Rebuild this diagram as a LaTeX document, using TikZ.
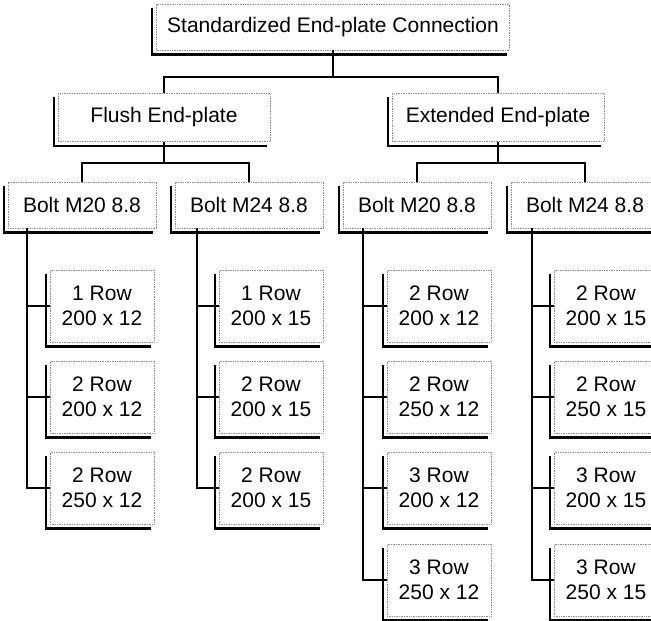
\documentclass[tikz,border=0pt]{standalone}
\usepackage{fontspec}
\setmainfont{Liberation Sans}
\begin{document}
\begin{tikzpicture}[x=1pt,y=-1pt,
  box/.style={draw=black!45, densely dotted, line width=0.7pt, inner sep=0pt,
    font=\fontsize{21}{25}\selectfont, align=center},
  topbox/.style={box, minimum width=353pt, minimum height=46pt},
  midbox/.style={box, minimum width=212pt, minimum height=48pt},
  boltbox/.style={box, minimum width=148pt, minimum height=46pt},
  rowbox/.style={box, minimum width=104pt, minimum height=72pt},
  shadowline/.style={line width=2.3pt, black},
  conn/.style={line width=1.1pt, black}]
\useasboundingbox (0,0) rectangle (651,621);
\clip (0,0) rectangle (651,621);
\fill[white] (0,0) rectangle (651,621);

% nodes
\node[topbox] (top) at (333,27) {Standardized End-plate Connection};
\node[midbox] (flush) at (164,117.5) {Flush End-plate};
\node[midbox] (ext) at (498,117.5) {Extended End-plate};

\node[boltbox] (b1) at (82,205) {Bolt M20 8.8};
\node[boltbox] (b2) at (249,205) {Bolt M24 8.8};
\node[boltbox] (b3) at (417,205) {Bolt M20 8.8};
\node[boltbox] (b4) at (585,205) {Bolt M24 8.8};

\node[rowbox] (r11) at (102,306) {1 Row\\200 x 12};
\node[rowbox] (r12) at (102,397) {2 Row\\200 x 12};
\node[rowbox] (r13) at (102,488) {2 Row\\250 x 12};

\node[rowbox] (r21) at (271,306) {1 Row\\200 x 15};
\node[rowbox] (r22) at (271,397) {2 Row\\200 x 15};
\node[rowbox] (r23) at (271,488) {2 Row\\200 x 15};

\node[rowbox] (r31) at (439,306) {2 Row\\200 x 12};
\node[rowbox] (r32) at (439,397) {2 Row\\250 x 12};
\node[rowbox] (r33) at (439,488) {3 Row\\200 x 12};
\node[rowbox] (r34) at (439,580) {3 Row\\250 x 12};

\node[rowbox] (r41) at (606,306) {2 Row\\200 x 15};
\node[rowbox] (r42) at (606,397) {2 Row\\250 x 15};
\node[rowbox] (r43) at (606,488) {3 Row\\200 x 15};
\node[rowbox] (r44) at (606,580) {3 Row\\250 x 15};

% shadows
\foreach \n in {top,flush,ext,b1,b2,b3,b4,r11,r12,r13,r21,r22,r23,r31,r32,r33,r34,r41,r42,r43,r44}{
  \draw[shadowline] ([xshift=-4pt,yshift=-4pt]\n.north west) |- ([xshift=-3pt,yshift=-4pt]\n.south east);
}

% connectors level 1
\coordinate (j0) at (333,77);
\draw[conn] (top.south) -- (j0);
\draw[conn] (flush.north) |- (j0) -| (ext.north);

% level 2
\coordinate (j1) at (164,163);
\coordinate (j2) at (498,163);
\draw[conn] (flush.south) -- (j1);
\draw[conn] (b1.north) |- (j1) -| (b2.north);
\draw[conn] (ext.south) -- (j2);
\draw[conn] (b3.north) |- (j2) -| (b4.north);

% branches
\coordinate (t1) at ([xshift=-55pt]b1.south);
\coordinate (t2) at ([xshift=-52pt]b2.south);
\coordinate (t3) at ([xshift=-54pt]b3.south);
\coordinate (t4) at ([xshift=-53pt]b4.south);
\draw[conn] (t1) |- (r13.west);
\draw[conn] (t1 |- r11.west) -- (r11.west);
\draw[conn] (t1 |- r12.west) -- (r12.west);
\draw[conn] (t2) |- (r23.west);
\draw[conn] (t2 |- r21.west) -- (r21.west);
\draw[conn] (t2 |- r22.west) -- (r22.west);
\draw[conn] (t3) |- (r34.west);
\draw[conn] (t3 |- r31.west) -- (r31.west);
\draw[conn] (t3 |- r32.west) -- (r32.west);
\draw[conn] (t3 |- r33.west) -- (r33.west);
\draw[conn] (t4) |- (r44.west);
\draw[conn] (t4 |- r41.west) -- (r41.west);
\draw[conn] (t4 |- r42.west) -- (r42.west);
\draw[conn] (t4 |- r43.west) -- (r43.west);
\end{tikzpicture}
\end{document}
